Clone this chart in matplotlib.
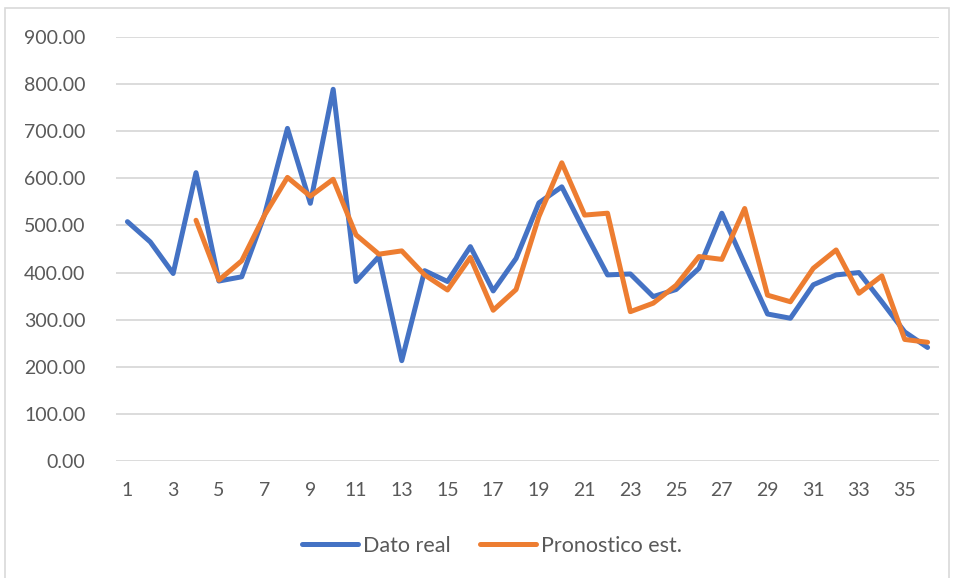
import numpy as np
import matplotlib.pyplot as plt
from matplotlib.patches import Rectangle

# periods 1..36
periodos = np.arange(1, 37)

# real data (blue)
dato_real = [508, 465, 398, 612, 382, 391, 523, 706, 547, 789,
             381, 434, 213, 404, 381, 455, 361, 430, 548, 582,
             487, 395, 397, 349, 364, 409, 526, 418, 312, 303,
             374, 395, 400, 338, 274, 241]

# forecast (orange), starts at period 4
pronostico = [np.nan, np.nan, np.nan, 511, 384, 425, 522, 602, 562, 598,
              480, 439, 446, 395, 363, 432, 320, 364, 519, 633,
              522, 526, 317, 335, 373, 434, 428, 536, 352, 338,
              409, 448, 356, 393, 258, 252]

yticks = np.arange(0, 901, 100)
xtick_labels = [str(p) for p in periodos[::2]]

plt.rcParams['font.family'] = ['Lato', 'DejaVu Sans']
txt = '#595959'

fig = plt.figure(figsize=(9.56, 5.78), dpi=100)
ax = fig.add_axes([116/956, 1 - 461/578, 823/956, 424/578])

# outer chart border
fig.patches.append(Rectangle((5/956, -0.01), 944/956, 1 - 8/578 + 0.01,
                             transform=fig.transFigure, fill=False,
                             edgecolor='#D9D9D9', linewidth=1.2))

ax.plot(periodos, dato_real, color='#4472C4', linewidth=3.6,
        solid_joinstyle='round', solid_capstyle='round', label='Dato real')
ax.plot(periodos, pronostico, color='#ED7D31', linewidth=3.6,
        solid_joinstyle='round', solid_capstyle='round', label='Pronostico est.')

ax.set_xlim(0.5, 36.5)
ax.set_ylim(0, 900)
ax.set_yticks(yticks)
ax.set_yticklabels([f'{v:.2f}' for v in yticks])
ax.set_xticks(periodos[::2])
ax.set_xticklabels(xtick_labels)

for s in ax.spines.values():
    s.set_visible(False)
ax.grid(axis='y', color='#D9D9D9', linewidth=1.3)
ax.set_axisbelow(True)
ax.tick_params(axis='both', length=0, labelsize=14, labelcolor=txt)
ax.tick_params(axis='y', pad=22)
ax.tick_params(axis='x', pad=15)

fig.legend(loc='center', bbox_to_anchor=(492/956, 1 - 546/578), ncol=2,
           frameon=False, fontsize=15.5, labelcolor=txt, handlelength=2.6,
           handletextpad=0.2, columnspacing=1.4)

fig.savefig('out.png', dpi=100)
